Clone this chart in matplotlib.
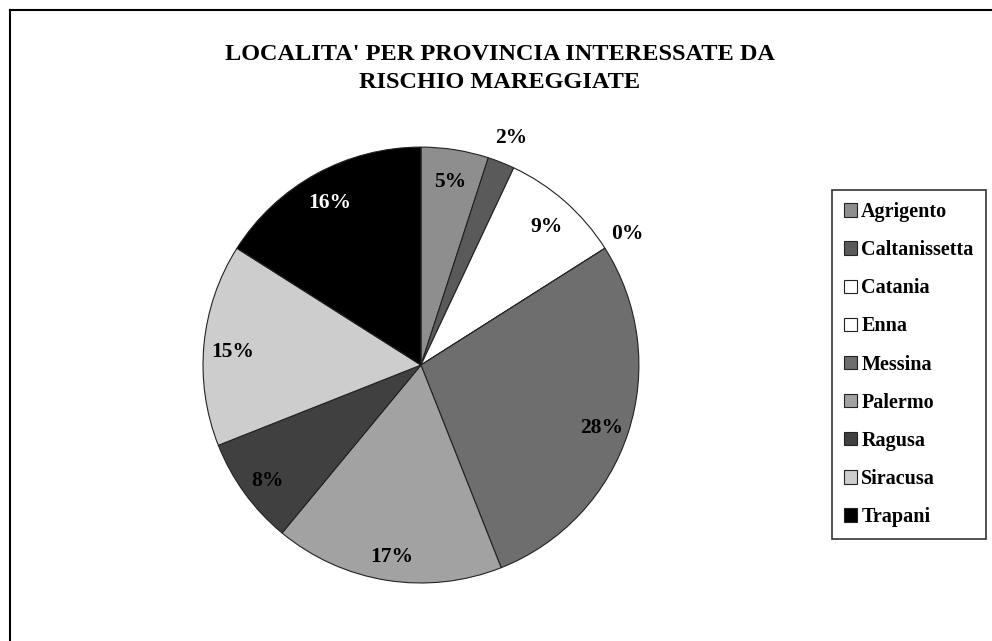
import matplotlib
matplotlib.use("Agg")
import matplotlib.pyplot as plt
import numpy as np
from matplotlib.lines import Line2D

title_lines = ["LOCALITA' PER PROVINCIA INTERESSATE DA", "RISCHIO MAREGGIATE"]
provinces = ["Agrigento", "Caltanissetta", "Catania", "Enna", "Messina",
             "Palermo", "Ragusa", "Siracusa", "Trapani"]
values = [5, 2, 9, 0, 28, 17, 8, 15, 16]
colors = ["#8e8e8e", "#5a5a5a", "#ffffff", "#ffffff", "#6e6e6e",
          "#a2a2a2", "#404040", "#cdcdcd", "#000000"]
label_colors = ["black", "black", "black", "black", "black",
                "black", "black", "black", "white"]

serif = ["Liberation Serif", "DejaVu Serif"]

fig = plt.figure(figsize=(9.92, 6.41), dpi=100)
fig.patch.set_facecolor("white")

ax = fig.add_axes([0.2046, 0.0905, 0.4395, 0.680])
wedges, _ = ax.pie(values, colors=colors, startangle=90, counterclock=False,
                   radius=1.0,
                   wedgeprops=dict(edgecolor="#222222", linewidth=0.8))
ax.set_xlim(-1, 1)
ax.set_ylim(-1, 1)
ax.set_aspect("equal")
ax.axis("off")

total = sum(values)
for w, v, lc in zip(wedges, values, label_colors):
    ang = np.deg2rad((w.theta1 + w.theta2) / 2)
    pct = v / total * 100
    r = 0.87 if pct >= 4 else 1.12
    dy = -0.02 if pct >= 4 else 0.0
    ax.text(r * np.cos(ang), r * np.sin(ang) + dy, f"{pct:.0f}%",
            ha="center", va="center", fontsize=15.5, fontweight="bold",
            family=serif, color=lc, clip_on=False)

for line, yp in zip(title_lines, [54, 82]):
    fig.text(0.504, 1 - yp / 641, line, ha="center", va="center",
             fontsize=17.5, fontweight="bold", family=serif)

leg = fig.legend(wedges, provinces, loc="upper left",
                 bbox_to_anchor=(832 / 992, 1 - 190 / 641),
                 prop=dict(family=serif, weight="bold", size=14.5),
                 frameon=True, fancybox=False, edgecolor="black",
                 handlelength=0.65, handleheight=0.65, handletextpad=0.2,
                 labelspacing=0.9, borderpad=0.6, borderaxespad=0)
leg.get_frame().set_linewidth(1.2)

# figure border (top and left visible)
fig.add_artist(Line2D([10 / 992, 10 / 992], [0, 1 - 10 / 641],
                      transform=fig.transFigure, color="black", lw=1.5))
fig.add_artist(Line2D([10 / 992, 1], [1 - 10 / 641, 1 - 10 / 641],
                      transform=fig.transFigure, color="black", lw=1.5))

fig.savefig("out.png", dpi=100)
